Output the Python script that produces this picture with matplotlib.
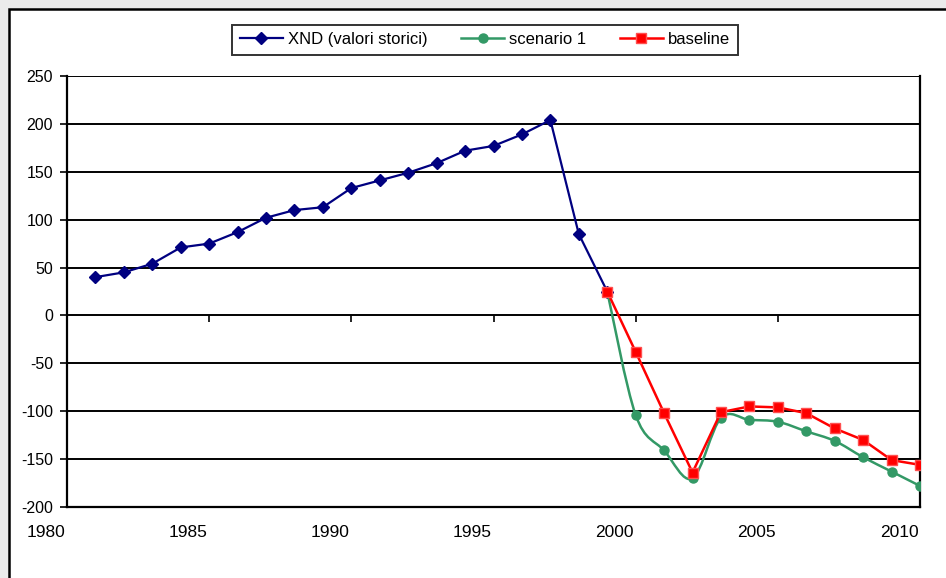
import matplotlib
matplotlib.use("Agg")
import matplotlib.pyplot as plt
import matplotlib.transforms as mtransforms
from matplotlib.lines import Line2D
from matplotlib.path import Path
from matplotlib.patches import PathPatch, Rectangle

# Historical XND values
years_hist = list(range(1981, 2000))
xnd = [40, 45, 54, 71, 75, 87, 102, 110, 113, 133, 141, 149, 159, 172, 177, 189, 204, 85, 25]

# Projections
years_proj = list(range(1999, 2011))
scenario1 = [25, -104, -141, -170, -107, -109, -111, -121, -131, -148, -163, -178]
baseline = [25, -38, -102, -164, -101, -95, -96, -102, -118, -130, -151, -156]

xtick_years = [1980, 1985, 1990, 1995, 2000, 2005, 2010]
yticks = [-200, -150, -100, -50, 0, 50, 100, 150, 200, 250]

NAVY = "#000080"
GREEN = "#339966"
RED = "#ff0000"

plt.rcParams["font.family"] = ["Liberation Sans", "DejaVu Sans"]


def smooth_path(xs, ys):
    # Catmull-Rom style bezier, like Excel's "smoothed line"
    pts = list(zip(xs, ys))
    verts = [pts[0]]
    codes = [Path.MOVETO]
    n = len(pts)
    for i in range(n - 1):
        p0 = pts[i - 1] if i > 0 else pts[i]
        p1 = pts[i]
        p2 = pts[i + 1]
        p3 = pts[i + 2] if i + 2 < n else pts[i + 1]
        c1 = (p1[0] + (p2[0] - p0[0]) / 6, p1[1] + (p2[1] - p0[1]) / 6)
        c2 = (p2[0] - (p3[0] - p1[0]) / 6, p2[1] - (p3[1] - p1[1]) / 6)
        verts += [c1, c2, p2]
        codes += [Path.CURVE4] * 3
    return Path(verts, codes)


fig = plt.figure(figsize=(9.46, 5.78), dpi=100)
fig.patch.set_facecolor("#ebebeb")
fig.patches.append(Rectangle((9 / 946, -0.05), 1.0, 1 - 9 / 578 + 0.05,
                             transform=fig.transFigure, facecolor="white",
                             edgecolor="black", linewidth=1.8, zorder=-5))

ax = fig.add_axes([67 / 946, 1 - 507 / 578, (920 - 67) / 946, (507 - 76) / 578])
ax.set_zorder(1)
ax.set_facecolor("white")

ax.plot(years_hist, xnd, color=NAVY, lw=1.6, marker="D", ms=6,
        mfc=NAVY, mec=NAVY, zorder=3)

ax.add_patch(PathPatch(smooth_path(years_proj, scenario1), facecolor="none",
                       edgecolor=GREEN, lw=1.8, zorder=3))
ax.plot(years_proj[1:], scenario1[1:], ls="none", marker="o", ms=6.5,
        mfc=GREEN, mec=GREEN, zorder=4)

ax.plot(years_proj, baseline, color=RED, lw=1.8, marker="s", ms=7,
        mfc=RED, mec="#ff5050", zorder=5)

ax.set_xlim(1980, 2010)
ax.set_ylim(-200, 250)
ax.set_yticks(yticks)
ax.set_yticklabels([str(v) for v in yticks])
ax.yaxis.grid(True, color="black", lw=1.4)
ax.set_axisbelow(True)
ax.tick_params(axis="y", direction="out", length=5, width=1.2, pad=5,
               labelsize=11.5)

ax.set_xticks(xtick_years)
ax.set_xticklabels([str(y) for y in xtick_years])
ax.tick_params(axis="x", length=0, pad=13, labelsize=12.5)
offset = mtransforms.ScaledTranslation(-21 / 100, 0, fig.dpi_scale_trans)
for lab in ax.get_xticklabels():
    lab.set_transform(lab.get_transform() + offset)

for side in ["left", "bottom", "right"]:
    ax.spines[side].set_linewidth(1.6)
    ax.spines[side].set_color("black")
ax.spines["top"].set_visible(False)

# category axis crosses at zero with small tick marks
sec = ax.secondary_xaxis(200 / 450)
sec.set_xticks(xtick_years[1:-1])
sec.tick_params(direction="out", length=5, width=1.2, labelbottom=False,
                labeltop=False, bottom=True, top=False)
sec.spines["bottom"].set_visible(False)
sec.spines["top"].set_visible(False)

handles = [
    Line2D([], [], color=NAVY, lw=1.6, marker="D", ms=6, mfc=NAVY, mec=NAVY),
    Line2D([], [], color=GREEN, lw=1.8, marker="o", ms=6.5, mfc=GREEN, mec=GREEN),
    Line2D([], [], color=RED, lw=1.8, marker="s", ms=7, mfc=RED, mec="#ff5050"),
]
leg = fig.legend(handles, ["XND (valori storici)", "scenario 1", "baseline"],
                 loc="center", bbox_to_anchor=(485 / 946, 1 - 39.5 / 578),
                 ncol=3, fontsize=12, frameon=True, fancybox=False,
                 edgecolor="black", handlelength=2.6, handletextpad=0.3,
                 columnspacing=2.0, borderpad=0.45)
leg.get_frame().set_linewidth(1.4)

fig.savefig("out.png", dpi=100, facecolor=fig.get_facecolor())
